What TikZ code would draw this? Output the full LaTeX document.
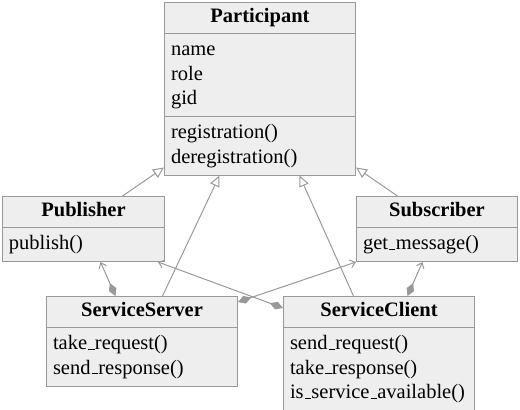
\documentclass[tikz,border=0pt]{standalone}
\usepackage{fontspec}
\setmainfont{Liberation Serif}
\newfontfamily\umlfont{Liberation Serif}
\usetikzlibrary{shapes.multipart,arrows.meta}
\definecolor{umlline}{HTML}{999999}
\definecolor{umlfill}{HTML}{EEEEEE}
\newcommand{\rowstrut}{\rule[-7pt]{0pt}{24.5pt}}
\newcommand{\headstrut}{\rule[-6pt]{0pt}{21.5pt}}
\newcommand{\umlhead}[1]{\makebox[\hsize][c]{\headstrut\textbf{#1}}}
\newcommand{\us}{\kern.06em\rule{.3em}{.8pt}\kern.02em}

\begin{document}
\begin{tikzpicture}[x=1pt,y=-1pt,
  umlclass/.style={rectangle split,rectangle split parts=#1,draw=umlline,fill=umlfill,line width=1pt,
    anchor=north west,inner xsep=6.5pt,inner ysep=4.25pt,align=left,
    font=\umlfont\fontsize{20.5}{24.5}\selectfont},
  gen/.style={draw=umlline,line width=1pt,-{Triangle[open,fill=white,length=11pt,width=10pt]}},
  comp/.style={draw=umlline,line width=1pt,{Diamond[length=14pt,width=8pt]}-{Straight Barb[length=5pt,width=8pt]}}]
\path[use as bounding box] (0,0) rectangle (520,410);
% classes
\node[umlclass=3,text width=178pt] (participant) at (164,2) {\umlhead{Participant}
  \nodepart{two}\rowstrut name\\\rowstrut role\\\rowstrut gid
  \nodepart{three}\rowstrut registration()\\\rowstrut deregistration()};
\node[umlclass=2,text width=149pt] (publisher) at (2,196) {\umlhead{Publisher}
  \nodepart{two}\rowstrut publish()};
\node[umlclass=2,text width=148pt] (subscriber) at (356,196) {\umlhead{Subscriber}
  \nodepart{two}\rowstrut get\us message()};
\node[umlclass=2,text width=178pt] (serviceserver) at (46,296) {\umlhead{ServiceServer}
  \nodepart{two}\rowstrut take\us request()\\\rowstrut send\us response()};
\node[umlclass=2,text width=178pt] (serviceclient) at (283,296) {\umlhead{ServiceClient}
  \nodepart{two}\rowstrut send\us request()\\\rowstrut take\us response()\\\rowstrut is\us service\us available()};
% generalization
\draw[gen] ([xshift=39pt]publisher.north) -- ([yshift=8pt]participant.south west);
\draw[gen] ([xshift=20.5pt]serviceserver.north) -- ([xshift=-40.5pt]participant.south);
\draw[gen] ([xshift=-25.5pt]serviceclient.north) -- ([xshift=39.5pt]participant.south);
\draw[gen] ([xshift=-39.5pt]subscriber.north) -- ([yshift=8pt]participant.south east);
% composition
\draw[comp] ([xshift=-26.5pt]serviceserver.north) -- ([xshift=17pt]publisher.south);
\draw[comp] ([yshift=-6pt]serviceserver.north east) -- (subscriber.south west);
\draw[comp] ([yshift=-12pt]serviceclient.north west) -- ([xshift=-7pt]publisher.south east);
\draw[comp] ([xshift=28.5pt]serviceclient.north) -- ([xshift=-14.5pt]subscriber.south);
\end{tikzpicture}
\end{document}
